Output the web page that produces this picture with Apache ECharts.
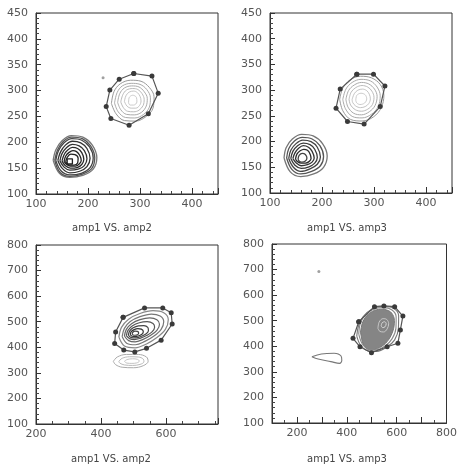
<!DOCTYPE html>
<html>
<head>
<meta charset="utf-8">
<script src="https://cdn.jsdelivr.net/npm/echarts@6/dist/echarts.min.js"></script>
<style>
html, body { margin: 0; padding: 0; background: #fff; }
#chart { width: 460px; height: 467px; }
</style>
</head>
<body>
<div id="chart"></div>
<script>
// axis ranges, tick spacing and labelled values, one entry per panel
var xRanges = [[100, 450], [100, 450], [200, 760], [100, 800]];
var yRanges = [[100, 450], [100, 450], [100, 800], [100, 800]];
var xSteps = [100, 100, 200, 100];
var ySteps = [50, 50, 100, 100];
var xMinorSplit = [5, 5, 4, 2];
var yMinorSplit = [5, 5, 5, 5];
var xLabels = [[100, 200, 300, 400], [100, 200, 300, 400], [200, 400, 600], [200, 400, 600, 800]];
var yLabels = [
  [100, 150, 200, 250, 300, 350, 400, 450],
  [100, 150, 200, 250, 300, 350, 400, 450],
  [100, 200, 300, 400, 500, 600, 700, 800],
  [100, 200, 300, 400, 500, 600, 700, 800]
];
var panelTitles = ['amp1 VS. amp2', 'amp1 VS. amp3', 'amp1 VS. amp2', 'amp1 VS. amp3'];

// panel 1: amp1 vs amp2 (low range)
var p1LowRings = [
  [[133,165],[138,185],[150,203],[168,213],[190,210],[208,195],[217,170],[210,148],[190,136],[165,132],[145,140],[133,165]],
  [[136,165],[141,184],[152,201],[168,210],[189,207],[205,193],[213,170],[207,149],[188,138],[165,134],[146,142],[136,165]],
  [[138,165],[143,183],[154,199],[169,207],[188,204],[203,191],[210,170],[204,151],[187,140],[165,137],[148,145],[138,165]],
  [[142,165],[147,181],[157,195],[170,202],[186,199],[198,188],[204,169],[198,153],[184,144],[165,141],[151,149],[142,165]],
  [[146,164],[150,178],[159,190],[170,196],[183,193],[193,184],[198,168],[193,155],[181,148],[165,146],[154,152],[146,164]],
  [[150,164],[154,176],[161,185],[170,190],[180,188],[188,180],[192,167],[188,157],[179,151],[166,150],[156,155],[150,164]],
  [[154,163],[157,173],[163,180],[171,184],[178,182],[184,175],[187,165],[183,158],[176,154],[166,154],[159,157],[154,163]],
  [[157,162],[160,171],[167,177],[175,176],[181,169],[180,160],[173,156],[164,156],[157,162]],
  [[160,158],[160,168],[170,168],[170,158],[160,158]]
];
var p1HighRings = [
  [[245,275],[250,298],[262,313],[282,320],[302,318],[318,306],[327,288],[325,266],[312,250],[292,241],[270,242],[254,255],[245,275]],
  [[251,276],[256,296],[266,309],[283,314],[300,312],[313,302],[320,286],[318,268],[307,254],[290,247],[272,248],[258,259],[251,276]],
  [[257,277],[261,294],[270,305],[284,309],[298,307],[308,298],[314,285],[312,270],[303,258],[289,253],[274,254],[263,263],[257,277]],
  [[263,278],[267,292],[274,301],[286,304],[296,302],[304,294],[308,283],[306,271],[298,262],[288,259],[276,260],[268,267],[263,278]],
  [[270,279],[273,290],[279,297],[288,299],[295,296],[300,289],[302,280],[299,271],[292,266],[283,266],[275,270],[270,279]],
  [[278,276],[279,286],[286,291],[293,287],[294,278],[288,272],[281,272],[278,276]]
];
var p1Cut = [[288,333],[323,328],[335,295],[316,255],[279,233],[244,246],[235,269],[242,301],[260,322],[288,333]];
var p1Stray = [[229,325]];

// panel 2: amp1 vs amp3 (low range)
var p2LowRings = [
  [[127,168],[131,188],[143,205],[161,214],[183,211],[201,196],[210,172],[203,150],[184,137],[159,132],[139,141],[127,168]],
  [[132,168],[136,186],[147,201],[162,208],[181,205],[196,192],[203,171],[197,153],[180,142],[159,137],[142,146],[132,168]],
  [[136,167],[140,183],[150,196],[163,203],[179,200],[191,189],[197,170],[191,156],[177,147],[159,142],[145,150],[136,167]],
  [[140,167],[144,181],[153,192],[164,197],[177,194],[186,185],[191,169],[186,158],[175,151],[160,148],[148,154],[140,167]],
  [[144,167],[148,178],[155,187],[164,192],[174,189],[181,181],[185,168],[181,160],[172,155],[160,153],[151,158],[144,167]],
  [[149,166],[152,176],[158,182],[165,185],[172,183],[177,176],[179,167],[175,161],[168,158],[160,158],[153,161],[149,166]],
  [[154,166],[156,173],[162,177],[168,175],[171,168],[168,162],[161,160],[156,162],[154,166]]
];
var p2HighRings = [
  [[234,282],[240,304],[254,320],[274,327],[295,324],[312,311],[319,290],[314,266],[299,248],[277,240],[255,243],[240,260],[234,282]],
  [[240,282],[246,302],[258,315],[275,321],[293,318],[306,306],[312,289],[308,268],[295,253],[277,246],[258,249],[245,264],[240,282]],
  [[246,282],[251,299],[262,310],[276,315],[290,312],[301,302],[306,288],[302,270],[291,258],[276,252],[261,255],[250,267],[246,282]],
  [[252,282],[256,296],[265,305],[277,309],[288,306],[296,298],[300,286],[297,272],[288,263],[276,259],[264,262],[255,271],[252,282]],
  [[258,282],[262,293],[269,300],[278,302],[286,299],[291,292],[293,283],[290,274],[283,268],[274,266],[265,269],[259,276],[258,282]],
  [[265,280],[267,290],[275,294],[283,291],[286,283],[282,275],[273,272],[267,275],[265,280]]
];
var p2Cut = [[267,331],[299,331],[321,308],[312,268],[281,234],[249,239],[227,265],[235,302],[267,331]];

// panel 3: amp1 vs amp2 (high range)
var p3MainRings = [
  [[455,440],[463,478],[485,510],[520,532],[560,543],[593,535],[607,508],[598,470],[572,438],[540,413],[505,398],[472,405],[455,440]],
  [[465,442],[472,474],[490,501],[520,520],[555,530],[582,522],[593,500],[585,470],[563,444],[535,423],[506,410],[480,415],[465,442]],
  [[472,444],[478,470],[494,492],[520,508],[550,515],[572,508],[580,490],[572,466],[552,446],[528,430],[505,421],[485,426],[472,444]],
  [[478,446],[483,466],[497,484],[518,496],[542,500],[560,493],[565,478],[557,460],[540,446],[520,435],[503,430],[488,434],[478,446]],
  [[484,448],[488,463],[499,476],[515,484],[532,485],[544,478],[546,465],[538,452],[524,443],[508,437],[494,438],[484,448]],
  [[490,450],[493,461],[502,469],[513,473],[524,471],[530,463],[528,453],[519,446],[507,442],[496,443],[490,450]],
  [[496,452],[498,459],[505,463],[512,462],[516,456],[512,449],[505,447],[499,448],[496,452]]
];
var p3LowRings = [
  [[438,345],[450,362],[478,372],[515,372],[540,362],[545,345],[530,328],[500,320],[465,322],[445,332],[438,345]],
  [[455,345],[465,357],[488,363],[515,362],[530,354],[532,343],[520,333],[497,329],[472,331],[458,338],[455,345]],
  [[472,345],[480,352],[497,355],[512,353],[518,346],[510,339],[495,337],[480,338],[472,345]]
];
var p3Cut = [[468,517],[534,554],[590,554],[616,535],[619,491],[585,428],[540,396],[504,382],[470,389],[442,415],[445,460],[468,517]];

// panel 4: amp1 vs amp3 (high range)
var p4Rings = [
  [[440,440],[447,480],[465,515],[500,545],[545,556],[585,550],[608,520],[607,470],[592,425],[562,398],[520,380],[485,382],[455,405],[440,440]],
  [[448,448],[454,488],[473,522],[507,545],[547,551],[580,543],[598,515],[597,470],[582,430],[555,402],[518,386],[487,388],[462,410],[448,448]]
];
var p4Fill = [[455,455],[462,490],[480,520],[510,540],[545,545],[575,535],[590,510],[588,470],[572,432],[548,405],[515,388],[485,388],[465,410],[455,455]];
var p4Light = [
  [[525,470],[530,495],[545,508],[560,505],[568,488],[562,468],[548,456],[533,458],[525,470]],
  [[538,480],[542,492],[552,496],[558,488],[553,476],[544,473],[538,480]]
];
var p4Loop = [[260,359],[298,370],[349,373],[377,362],[380,344],[371,333],[336,340],[285,350],[260,359]];
var p4Cut = [[448,496],[511,555],[549,558],[592,555],[625,518],[615,464],[605,412],[562,398],[499,375],[453,398],[425,431],[448,496]];
var p4Stray = [[288,692]];

var grids = [
  {left: 36, top: 13, width: 182, height: 181},
  {left: 270, top: 13, width: 182, height: 180},
  {left: 36, top: 245, width: 182, height: 179},
  {left: 272, top: 244, width: 179, height: 179}
];
var titlePos = [[112, 228], [347, 228], [111, 459], [347, 459]];

var labelStyle = {color: '#555', fontSize: 11, fontFamily: 'DejaVu Sans'};
var xAxes = [], yAxes = [], series = [];

function labelOnly(list) {
  return function(v) { return list.indexOf(v) >= 0 ? String(v) : ''; };
}

grids.forEach(function(g, i) {
  g.show = true;
  g.borderColor = '#333';
  g.borderWidth = 1;
  xAxes.push({
    gridIndex: i, type: 'value', min: xRanges[i][0], max: xRanges[i][1], interval: xSteps[i],
    axisLine: {show: true, lineStyle: {color: '#333'}}, splitLine: {show: false},
    axisTick: {show: true, inside: true, length: 6, lineStyle: {color: '#333'}},
    minorTick: {show: true, splitNumber: xMinorSplit[i], length: 3, lineStyle: {color: '#444'}},
    axisLabel: Object.assign({margin: 5, formatter: labelOnly(xLabels[i])}, labelStyle)
  });
  yAxes.push({
    gridIndex: i, type: 'value', min: yRanges[i][0], max: yRanges[i][1], interval: ySteps[i],
    axisLine: {show: true, lineStyle: {color: '#333'}}, splitLine: {show: false},
    axisTick: {show: true, inside: true, length: 5, lineStyle: {color: '#333'}},
    minorTick: {show: true, splitNumber: yMinorSplit[i], length: 3, lineStyle: {color: '#444'}},
    axisLabel: Object.assign({margin: 8, formatter: labelOnly(yLabels[i])}, labelStyle)
  });
});

function rings(panel, list, colors, width) {
  list.forEach(function(pts, k) {
    series.push({
      type: 'line', xAxisIndex: panel, yAxisIndex: panel, data: pts,
      showSymbol: false, smooth: 0.35, silent: true, z: 3,
      lineStyle: {color: colors[Math.min(k, colors.length - 1)], width: width}
    });
  });
}
function cut(panel, pts) {
  series.push({
    type: 'line', xAxisIndex: panel, yAxisIndex: panel, data: pts,
    symbol: 'circle', symbolSize: 5, showSymbol: true, silent: true, z: 5,
    itemStyle: {color: '#3a3a3a'}, lineStyle: {color: '#555', width: 1.2}
  });
}
function dots(panel, pts) {
  series.push({
    type: 'scatter', xAxisIndex: panel, yAxisIndex: panel, data: pts,
    symbolSize: 3, itemStyle: {color: '#888'}, silent: true
  });
}

rings(0, p1LowRings, ['#777', '#555', '#444', '#333', '#333', '#2a2a2a', '#222', '#222'], 1.3);
rings(0, p1HighRings, ['#999', '#aaa', '#aaa', '#bbb', '#c4c4c4', '#ccc'], 1);
cut(0, p1Cut);
dots(0, p1Stray);

rings(1, p2LowRings, ['#777', '#555', '#444', '#3a3a3a', '#333', '#2a2a2a', '#444'], 1.3);
rings(1, p2HighRings, ['#999', '#aaa', '#aaa', '#bbb', '#c4c4c4', '#ccc'], 1);
cut(1, p2Cut);

rings(2, p3MainRings, ['#888', '#777', '#666', '#555', '#444', '#333', '#444'], 1.2);
rings(2, p3LowRings, ['#aaa', '#bbb', '#c4c4c4'], 1);
cut(2, p3Cut);

series.push({
  type: 'custom', xAxisIndex: 3, yAxisIndex: 3, data: [0], silent: true, z: 2,
  renderItem: function(params, api) {
    return {
      type: 'polygon',
      shape: {points: p4Fill.map(function(p) { return api.coord(p); }), smooth: 0.3},
      style: {fill: '#858585', stroke: '#777'}
    };
  }
});
rings(3, p4Rings, ['#777', '#888'], 1.1);
rings(3, p4Light, ['#c8c8c8', '#d8d8d8'], 1);
rings(3, [p4Loop], ['#777'], 1.1);
cut(3, p4Cut);
dots(3, p4Stray);

var chart = echarts.init(document.getElementById('chart'));
chart.setOption({
  backgroundColor: '#fff',
  animation: false,
  grid: grids,
  xAxis: xAxes,
  yAxis: yAxes,
  series: series,
  graphic: panelTitles.map(function(t, i) {
    return {
      type: 'text', x: titlePos[i][0], y: titlePos[i][1], silent: true,
      style: {text: t, align: 'center', verticalAlign: 'middle', fill: '#444', font: '10px "DejaVu Sans"'}
    };
  })
});
window.addEventListener('resize', chart.resize);
</script>
</body>
</html>
